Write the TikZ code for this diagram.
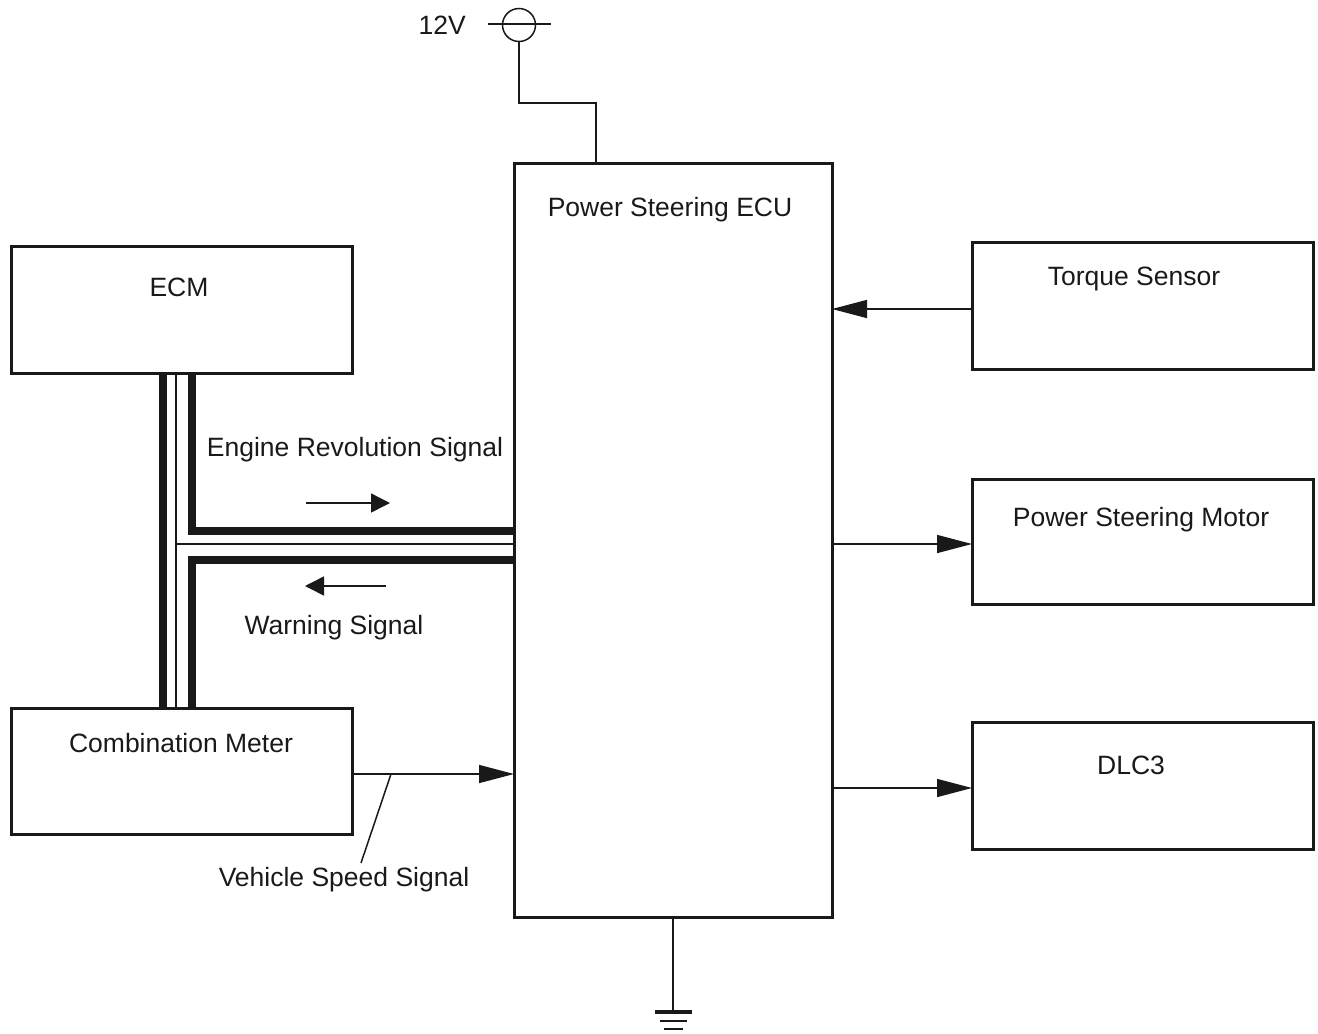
\documentclass[tikz,border=0pt]{standalone}
\usepackage{fontspec}
\setmainfont{Liberation Sans}
\usetikzlibrary{arrows.meta,calc}
\begin{document}
\begin{tikzpicture}[x=1pt,y=-1pt,
  box/.style={draw=black!90,line width=3pt,rectangle,inner sep=0pt,outer sep=0pt,anchor=north west},
  lbl/.style={font=\fontsize{26.5}{30}\selectfont,text=black!90,inner sep=0pt,anchor=base},
  wire/.style={draw=black!90,line width=1.5pt},
  bigarrow/.style={wire,-{Triangle[length=35pt,width=18pt]}},
  smallarrow/.style={wire,-{Triangle[length=19pt,width=19pt]}},
  bus/.style={draw=black!90,line width=8pt,line join=miter},
]
\useasboundingbox (0,0) rectangle (1318,1034);
% boxes
\node[box,minimum width=318pt,minimum height=754pt] (ecu) at (514,163) {};
\node[box,minimum width=341pt,minimum height=127pt] (ecm) at (11,246) {};
\node[box,minimum width=341pt,minimum height=126pt] (cm) at (11,708) {};
\node[box,minimum width=341pt,minimum height=127pt] (ts) at (972,242) {};
\node[box,minimum width=341pt,minimum height=125pt] (psm) at (972,479) {};
\node[box,minimum width=341pt,minimum height=127pt] (dlc) at (972,722) {};
% labels
\node[lbl] (tecu) at (670,216.5) {Power Steering ECU};
\node[lbl] (tecm) at (179,296.5) {ECM};
\node[lbl] (tcm) at (181,752) {Combination Meter};
\node[lbl] (tts) at (1134,285) {Torque Sensor};
\node[lbl] (tpsm) at (1141,526) {Power Steering Motor};
\node[lbl] (tdlc) at (1131,774) {DLC3};
\node[lbl] (teng) at (355,456) {Engine Revolution Signal};
\node[lbl] (twarn) at (334,634) {Warning Signal};
\node[lbl] (tvss) at (344,886) {Vehicle Speed Signal};
\node[lbl,anchor=base east] (t12) at (466,34) {12V};
% 12V supply
\node[draw=black!90,line width=1.5pt,circle,minimum size=33pt,inner sep=0pt,outer sep=0pt] (v12) at (519,25) {};
\coordinate (v12l) at (488,24);
\coordinate (v12r) at (551,24);
\draw[wire] (v12l) -- (v12r);
\coordinate (pwr) at (596,163);
\draw[wire] (v12.south) |- ($(pwr)+(0,-60)$) -- (pwr);
% ground
\coordinate (gnd) at (673,1012);
\draw[wire] (ecu.south) -- (gnd);
\draw[draw=black!90,line width=3.5pt] ($(gnd)+(-18,0)$) -- ($(gnd)+(19,0)$);
\draw[draw=black!90,line width=2pt] ($(gnd)+(-13,9)$) -- ($(gnd)+(14,9)$);
\draw[draw=black!90,line width=2pt] ($(gnd)+(-9,17)$) -- ($(gnd)+(10,17)$);
% right side arrows
\coordinate (tsout) at (972,309);
\draw[bigarrow] (tsout) -- (tsout -| ecu.east);
\coordinate (psmin) at (972,544);
\draw[bigarrow] (psmin -| ecu.east) -- (psmin);
\coordinate (dlcin) at (972,788);
\draw[bigarrow] (dlcin -| ecu.east) -- (dlcin);
% vehicle speed
\coordinate (vssin) at (514,774);
\draw[bigarrow] (vssin -| cm.east) -- (vssin);
\coordinate (vssa) at (391,774);
\coordinate (vssb) at (361,863);
\draw[wire] (vssa) -- (vssb);
% bus
\coordinate (busl) at (163,373);
\coordinate (busm) at (176,373);
\coordinate (busr) at (192,373);
\coordinate (busu) at (514,531);
\coordinate (busc) at (514,544);
\coordinate (busd) at (514,559.5);
\draw[bus] (busl) -- (busl |- cm.north);
\draw[bus] (busr) |- (busu);
\draw[bus] (busd) -| (busr |- cm.north);
\draw[wire] (busm) -- (busm |- cm.north);
\draw[wire] (busm |- busc) -- (busc);
% signal arrows
\coordinate (enga) at (306,503);
\coordinate (engb) at (390,503);
\draw[smallarrow] (enga) -- (engb);
\coordinate (wara) at (386,586);
\coordinate (warb) at (305,586);
\draw[smallarrow] (wara) -- (warb);
\end{tikzpicture}
\end{document}
